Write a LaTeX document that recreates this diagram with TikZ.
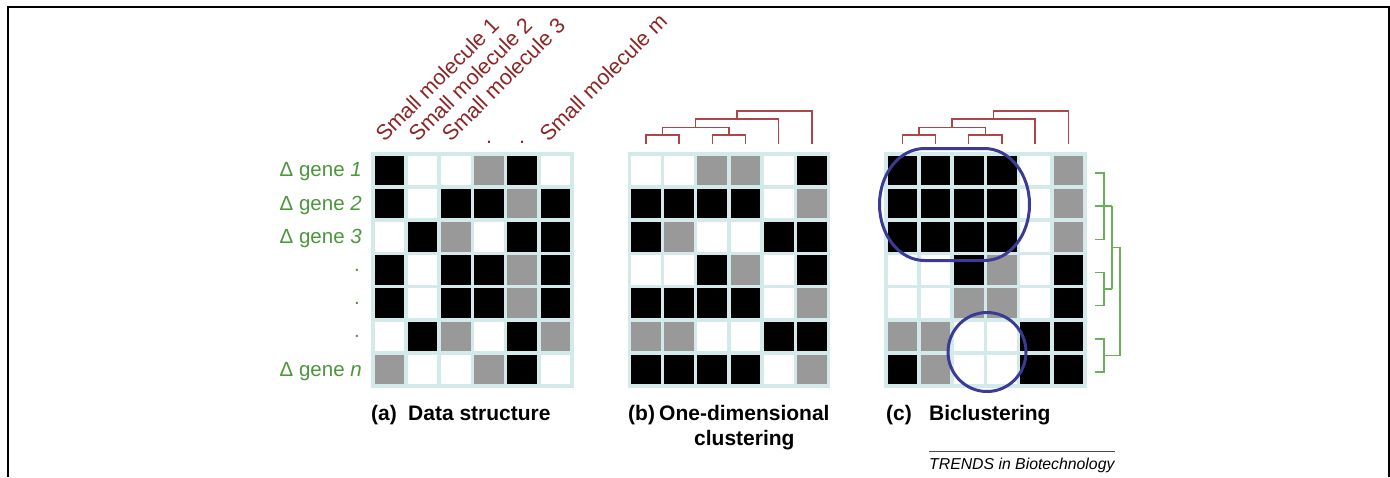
\documentclass[tikz,border=0pt]{standalone}
\usepackage{fontspec}
\setmainfont{Liberation Sans}
\definecolor{genegreen}{HTML}{4C963C}
\definecolor{treegreen}{HTML}{6AAF5A}
\definecolor{molred}{HTML}{8E2424}
\definecolor{treered}{HTML}{AC4648}
\definecolor{ringblue}{HTML}{3B3B96}
\definecolor{gridline}{HTML}{D4EAEA}
\colorlet{val0}{white}
\colorlet{val1}{black!40}
\colorlet{val2}{black}

\newcommand{\datagrid}[2]{%
\fill[gridline] (#1,152) rectangle ++(202.7,235.9);
\foreach \row [count=\j from 0] in {#2}
{
    \foreach \v [count=\i from 0] in \row
    {
        \fill[fill=val\v] (#1+3.5+\i*33.2,155.5+\j*33.2) rectangle ++(29.7,29.7);
    }
}}

\newcommand{\coltree}[1]{%
\draw[treeline] (#1+18.35,144)--(#1+18.35,135)--(#1+51.55,135)--(#1+51.55,144);
\draw[treeline] (#1+84.75,144)--(#1+84.75,135)--(#1+117.95,135)--(#1+117.95,144);
\draw[treeline] (#1+34.95,135)--(#1+34.95,127.5)--(#1+101.35,127.5)--(#1+101.35,135);
\draw[treeline] (#1+68.15,127.5)--(#1+68.15,119)--(#1+151.15,119)--(#1+151.15,144);
\draw[treeline] (#1+109.65,119)--(#1+109.65,111)--(#1+184.35,111)--(#1+184.35,144);
}

\begin{document}
\begin{tikzpicture}[x=1pt, y=-1pt,
    genelab/.style={text=genegreen, font=\fontsize{20.5}{24}\selectfont, inner sep=0pt, anchor=base east},
    mollab/.style={text=molred, font=\fontsize{21.5}{24}\selectfont, inner sep=0pt, anchor=base west, rotate=45},
    moldot/.style={text=molred, font=\fontsize{21.5}{24}\selectfont, inner sep=0pt, anchor=base},
    panellab/.style={font=\fontsize{21}{25}\selectfont\bfseries, inner sep=0pt},
    treeline/.style={treered, line width=1.4pt},
    rowtree/.style={treegreen, line width=1.4pt},
    ring/.style={ringblue, line width=3pt}]
\useasboundingbox (0,0) rectangle (1390,477);
\draw[line width=2pt] (8,477)--(8,7)--(1388.5,7)--(1388.5,477);

\datagrid{371}{{2,0,0,1,2,0},{2,0,2,2,1,2},{0,2,1,0,2,2},{2,0,2,2,1,2},{2,0,2,2,1,2},{0,2,1,0,2,1},{1,0,0,1,2,0}}
\datagrid{627.5}{{0,0,1,1,0,2},{2,2,2,2,0,1},{2,1,0,0,2,2},{0,0,2,1,0,2},{2,2,2,2,0,1},{1,1,0,0,2,2},{2,2,2,2,0,1}}
\datagrid{884}{{2,2,2,2,0,1},{2,2,2,2,0,1},{2,2,2,2,0,1},{0,0,2,1,0,2},{0,0,1,1,0,2},{1,1,0,0,2,2},{2,1,0,0,2,2}}

\coltree{627.5}
\coltree{884}

\draw[rowtree] (1095,172.85)--(1104,172.85)--(1104,239.25)--(1095,239.25);
\draw[rowtree] (1095,206.05)--(1112,206.05);
\draw[rowtree] (1095,272.45)--(1104,272.45)--(1104,305.65)--(1095,305.65);
\draw[rowtree] (1104,289.05)--(1112,289.05);
\draw[rowtree] (1112,206.05)--(1112,289.05);
\draw[rowtree] (1112,247.55)--(1120,247.55)--(1120,355.45)--(1104,355.45);
\draw[rowtree] (1095,338.85)--(1104,338.85)--(1104,372.05)--(1095,372.05);

\draw[ring] (924.5,148.5)--(984.5,148.5)
    arc[start angle=270, end angle=360, x radius=45, y radius=56]
    arc[start angle=0, end angle=90, x radius=45, y radius=56]
    --(924.5,260.5)
    arc[start angle=90, end angle=180, x radius=45, y radius=56]
    arc[start angle=180, end angle=270, x radius=45, y radius=56]--cycle;
\draw[ring] (987,352) circle[x radius=39, y radius=39.5];

\node[genelab] (g1) at (362,176.9) {Δ gene \textit{1}};
\node[genelab] (g2) at (362,210.1) {Δ gene \textit{2}};
\node[genelab] (g3) at (362,243.3) {Δ gene \textit{3}};
\node[genelab] (d1) at (360,271.5) {.};
\node[genelab] (d2) at (360,304.7) {.};
\node[genelab] (d3) at (360,337.9) {.};
\node[genelab] (gn) at (362,376.1) {Δ gene \textit{n}};

\node[mollab] (m1) at (384.4,143) {Small molecule 1};
\node[mollab] (m2) at (417.6,143) {Small molecule 2};
\node[mollab] (m3) at (450.8,143) {Small molecule 3};
\node[moldot] (p1) at (489,143) {.};
\node[moldot] (p2) at (522.2,143) {.};
\node[mollab] (mm) at (548.4,143) {Small molecule m};

\node[panellab, anchor=base west] (la) at (371,420) {(a)};
\node[panellab, anchor=base west] (ta) at (408,420) {Data structure};
\node[panellab, anchor=base west] (lb) at (628,420) {(b)};
\node[panellab, anchor=base west] (tb) at (659,420) {One-dimensional};
\node[panellab, anchor=base] (tb2) at ([yshift=-25pt]tb.base) {clustering};
\node[panellab, anchor=base west] (lc) at (886,420) {(c)};
\node[panellab, anchor=base west] (tc) at (929,420) {Biclustering};

\node[font=\fontsize{15.8}{18}\selectfont\itshape, inner sep=0pt, anchor=base west] (src) at (929,469) {TRENDS in Biotechnology};
\draw[black!70, line width=0.8pt] (src.west |- 0,451)--(src.east |- 0,451);
\end{tikzpicture}
\end{document}
